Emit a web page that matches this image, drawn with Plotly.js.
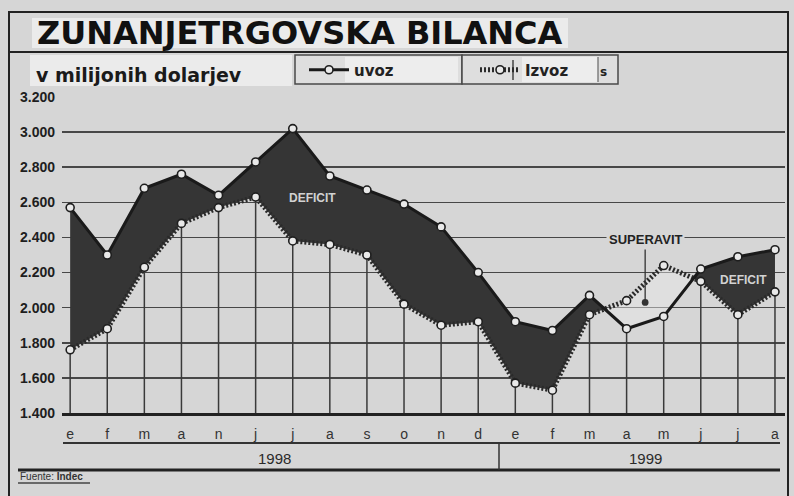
<!DOCTYPE html>
<html><head><meta charset="utf-8">
<script src="https://cdn.plot.ly/plotly-3.0.1.min.js"></script>
<style>html,body{margin:0;padding:0;background:#d6d6d6}#chart{width:794px;height:496px}</style>
</head><body><div id="chart"></div>
<script>
// ---- data ----
const months = ['e','f','m','a','n','j','j','a','s','o','n','d','e','f','m','a','m','j','j','a'];
const years = ['1998','1999'];
const yearStart = [0, 12];
const uvoz  = [2570,2300,2680,2760,2640,2830,3020,2750,2670,2590,2460,2200,1920,1870,2070,1880,1950,2220,2290,2330];
const izvoz = [1760,1880,2230,2480,2570,2630,2380,2360,2300,2020,1900,1920,1570,1530,1960,2040,2240,2150,1960,2090];
const yTicks = [1400,1600,1800,2000,2200,2400,2600,2800,3000,3200];
const yTickText = ['1.400','1.600','1.800','2.000','2.200','2.400','2.600','2.800','3.000','3.200'];
const seriesNames = ['uvoz','Izvoz'];

// ---- geometry helpers (layout only) ----
const W=794,H=496,L=62,R=9,T=97,B=83;
const pw=W-L-R, ph=H-T-B;
const X=px=>(px-L)/pw, Y=py=>(H-B-py)/ph;

const idx = months.map((_,i)=>i);

// drop lines from lower curve to axis
const dropX=[], dropY=[];
idx.forEach(i=>{dropX.push(i,i,null); dropY.push(Math.min(uvoz[i],izvoz[i]),yTicks[0],null);});

// deficit / superavit pieces
const d = uvoz.map((u,i)=>u-izvoz[i]);
const pieces=[];
let cur={sign:Math.sign(d[0]),xs:[0],up:[uvoz[0]],lo:[izvoz[0]]};
for(let i=1;i<idx.length;i++){
  const s=Math.sign(d[i]);
  if(s!==0 && s!==cur.sign){
    const t=d[i-1]/(d[i-1]-d[i]);
    const xc=i-1+t, yc=uvoz[i-1]+t*(uvoz[i]-uvoz[i-1]);
    cur.xs.push(xc);cur.up.push(yc);cur.lo.push(yc);
    pieces.push(cur);
    cur={sign:s,xs:[xc],up:[yc],lo:[yc]};
  }
  cur.xs.push(i);cur.up.push(uvoz[i]);cur.lo.push(izvoz[i]);
}
pieces.push(cur);

const traces=[];
traces.push({x:dropX,y:dropY,mode:'lines',line:{color:'#3a3a3a',width:1.5},showlegend:false,hoverinfo:'skip'});
pieces.forEach(p=>{
  traces.push({x:p.xs.concat(p.xs.slice().reverse()),y:p.up.concat(p.lo.slice().reverse()),
    mode:'lines',fill:'toself',line:{width:0},
    fillcolor:p.sign>0?'#353535':'rgba(236,236,236,0.45)',showlegend:false,hoverinfo:'skip'});
});
const mk={symbol:'circle',size:8,color:'#e9e9e9',line:{color:'#1e1e1e',width:1.6}};
traces.push({x:idx,y:izvoz,name:seriesNames[1],mode:'lines+markers',line:{color:'#2a2a2a',width:5,dash:'2px,2px'},marker:mk});
traces.push({x:idx,y:uvoz,name:seriesNames[0],mode:'lines+markers',line:{color:'#1a1a1a',width:3},marker:mk});

const lineShape=(x0,y0,x1,y1,w,c)=>({type:'line',xref:'paper',yref:'paper',x0:X(x0),x1:X(x1),y0:Y(y0),y1:Y(y1),line:{color:c||'#222',width:w}});
const rectShape=(x0,y0,x1,y1,fill,lw)=>({type:'rect',xref:'paper',yref:'paper',x0:X(x0),x1:X(x1),y0:Y(y0),y1:Y(y1),fillcolor:fill,line:{color:'#4a4a4a',width:lw||0},layer:'below'});

const shapes=[
  rectShape(32,18,568,48,'#ebebeb',0),
  rectShape(30,55,292,86,'#ebebeb',0),
  rectShape(295,55,462,84,'#dedede',1.5),
  rectShape(345,57,458,82,'#ededed',0),
  rectShape(462,55,618,84,'#dedede',1.5),
  rectShape(522,57,598,82,'#ededed',0),
  lineShape(513,60,513,80,1.5,'#444'),
  lineShape(598,57,598,82,1.2,'#666'),
  {type:'rect',xref:'paper',yref:'paper',x0:X(9),x1:X(788),y0:Y(12),y1:Y(500),line:{color:'#222',width:2},fillcolor:'rgba(0,0,0,0)'},
  lineShape(9,52,788,52,2),
  lineShape(63,443,780,443,2,'#333'),
  lineShape(18,470,780,470,3),
  lineShape(499,443,499,470,1.5,'#333'),
  lineShape(18,483,90,483,1.5,'#444')
];

const yearAnn = years.map((yr,k)=>{
  const s=yearStart[k], e=(k+1<yearStart.length?yearStart[k+1]:months.length)-1;
  return {x:(s+e)/2,xref:'x',y:Y(458),yref:'paper',yanchor:'middle',xanchor:'center',text:yr,showarrow:false,
    font:{family:'Liberation Sans Narrow, Liberation Sans, Arial',size:15,color:'#2a2a2a'}};
});

const annotations=[
  {x:X(34),y:Y(75),xref:'paper',yref:'paper',xanchor:'left',yanchor:'middle',showarrow:false,
   text:'v milijonih dolarjev',font:{family:'DejaVu Sans, Arial',size:19,color:'#1a1a1a',weight:'bold'}},
  {x:X(603),y:Y(72),xref:'paper',yref:'paper',xanchor:'center',yanchor:'middle',showarrow:false,
   text:'s',font:{family:'DejaVu Sans, Arial',size:12,color:'#222',weight:'bold'}},
  {x:6.52,y:2625,xref:'x',yref:'y',showarrow:false,text:'DEFICIT',
   font:{family:'Liberation Sans Narrow, Liberation Sans, Arial',size:12,color:'#d2d2d2',weight:'bold'}},
  {x:18.14,y:2158,xref:'x',yref:'y',showarrow:false,text:'DEFICIT',
   font:{family:'Liberation Sans Narrow, Liberation Sans, Arial',size:12,color:'#d2d2d2',weight:'bold'}},
  {x:15.5,y:2030,xref:'x',yref:'y',ax:0,ay:-63,showarrow:true,arrowhead:6,arrowsize:1.3,arrowwidth:1.3,arrowcolor:'#333',
   text:'SUPERAVIT',bgcolor:'#d6d6d6',borderpad:2,
   font:{family:'Liberation Sans Narrow, Liberation Sans, Arial',size:13,color:'#222',weight:'bold'}},
  {x:X(18),y:Y(476),xref:'paper',yref:'paper',xanchor:'left',yanchor:'middle',showarrow:false,
   text:'Fuente: <b>Indec</b>',font:{family:'Liberation Sans, Arial',size:10,color:'#333'}}
].concat(yearAnn);

const layout={
  width:W,height:H,margin:{l:L,r:R,t:T,b:B},
  paper_bgcolor:'#d6d6d6',plot_bgcolor:'#d6d6d6',
  title:{text:'ZUNANJETRGOVSKA BILANCA',xref:'container',yref:'container',x:37/W,xanchor:'left',y:1-33/H,yanchor:'middle',
    font:{family:'DejaVu Sans, Arial',size:32,color:'#111',weight:'bold'}},
  xaxis:{range:[-0.22,19.27],tickvals:idx,ticktext:months,showgrid:false,zeroline:false,
    showline:true,linecolor:'#222',linewidth:3,ticks:'',ticklabelstandoff:6,
    tickfont:{family:'Liberation Sans, Arial',size:14,color:'#333'},fixedrange:true},
  yaxis:{range:[yTicks[0],yTicks[yTicks.length-1]],tickvals:yTicks,ticktext:yTickText,showgrid:true,gridcolor:'#474747',gridwidth:1.6,
    zeroline:false,showline:false,ticks:'',ticklabelstandoff:6,
    tickfont:{family:'Liberation Sans Narrow, Liberation Sans, Arial',size:14,color:'#1e1e1e',weight:'bold'},fixedrange:true},
  showlegend:true,
  legend:{orientation:'h',x:X(304),xanchor:'left',y:Y(70),yanchor:'middle',bgcolor:'rgba(0,0,0,0)',
    font:{family:'DejaVu Sans, Arial',size:15,color:'#222',weight:'bold'},traceorder:'reversed',itemwidth:40,entrywidth:116,entrywidthmode:'pixels'},
  shapes:shapes,annotations:annotations
};
Plotly.newPlot('chart',traces,layout,{staticPlot:true,displayModeBar:false});
</script></body></html>
